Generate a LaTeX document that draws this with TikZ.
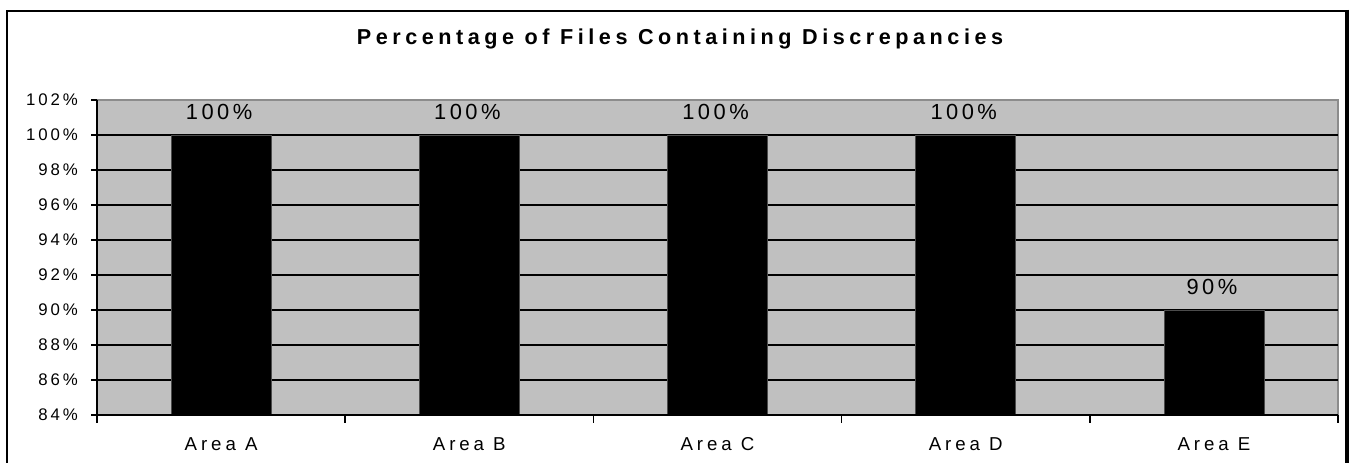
\documentclass[tikz,border=0pt]{standalone}
\usepackage{fontspec}
\setmainfont{Liberation Sans}
\newfontfamily\tickfont[LetterSpace=17]{Liberation Sans}
\newfontfamily\catfont[LetterSpace=21]{Liberation Sans}
\newfontfamily\valfont[LetterSpace=16]{Liberation Sans}
\newfontfamily\titlefont[LetterSpace=21]{Liberation Sans}
\begin{document}
\begin{tikzpicture}[x=0.75pt,y=-0.75pt,
  frame/.style={draw=black,line width=1.5pt},
  plotbg/.style={fill=plotgray,draw=none},
  grid line/.style={draw=black,line width=0.9pt},
  axis line/.style={draw=black,line width=1.1pt},
  bar/.style={fill=black,draw=black!70,line width=0.6pt},
  ticklabel/.style={anchor=east,inner sep=0pt,font=\tickfont\fontsize{12.6}{14}\selectfont},
  catlabel/.style={inner sep=0pt,font=\catfont\fontsize{14}{16}\selectfont},
  datalabel/.style={inner sep=0pt,font=\valfont\fontsize{16.4}{18}\selectfont},
  titlestyle/.style={inner sep=0pt,font=\titlefont\bfseries\fontsize{16.2}{18}\selectfont}]
\definecolor{plotgray}{HTML}{C0C0C0}
\useasboundingbox (0,0) rectangle (1359,463);
\begin{scope}
\clip (0,0) rectangle (1359,463);
% outer chart frame
\draw[frame] (7,11) -- (7,480);
\draw[frame] (6,11) -- (1347,11);
\draw[draw=black,line width=3.5pt] (1347,10) -- (1347,480);
\end{scope}
% title
\node[titlestyle] (title) at (680,39) {Percentage of Files Containing Discrepancies};
% plot area
\fill[plotbg] (97,100) rectangle (1338,415);
\draw[draw=black!45,line width=0.8pt] (97,100) -- (1338,100) -- (1338,415);
% horizontal grid lines, y ticks and labels (84% .. 102%)
\foreach \v [count=\i from 0] in {84,86,...,102} {
  \pgfmathsetmacro{\yy}{415-35*\i}
  \ifnum\v>84 \ifnum\v<102 \draw[grid line] (97,\yy) -- (1338,\yy); \fi\fi
  \draw[axis line] (91,\yy) -- (97,\yy);
  \node[ticklabel] (ylab\v) at (78,\yy) {\v\%};
}
% bars
\foreach \n/\val [count=\i from 0] in {A/100,B/100,C/100,D/100,E/90} {
  \pgfmathsetmacro{\cx}{97+248.2*(\i+0.5)}
  \pgfmathsetmacro{\top}{415-35*(\val-84)/2}
  \fill[bar] (\cx-50,\top) rectangle (\cx+50,415);
  \node[datalabel] (val\n) at (\cx-2,\top-23) {\val\%};
  \node[catlabel] (cat\n) at (\cx,444) {Area \n};
}
% axes
\draw[axis line] (97,100) -- (97,423);
\draw[axis line] (97,415) -- (1338,415);
\foreach \i in {1,...,5} {
  \draw[axis line] ({97+248.2*\i},415) -- ({97+248.2*\i},423);
}
\end{tikzpicture}
\end{document}
